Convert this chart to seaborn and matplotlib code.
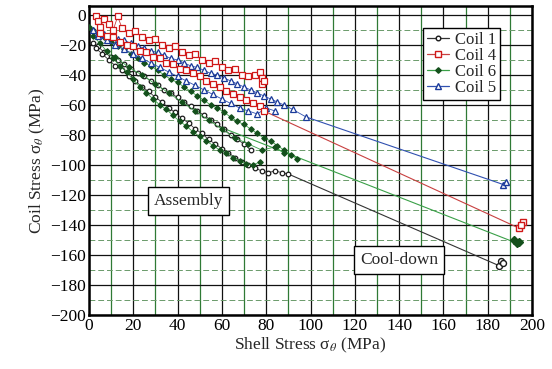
import numpy as np
import pandas as pd
import matplotlib
matplotlib.use("Agg")
import matplotlib.pyplot as plt
from matplotlib.lines import Line2D
import seaborn as sns

# ---------------- data ----------------
coil_names = ["Coil 1", "Coil 4", "Coil 6", "Coil 5"]

# Coil 1 (black open circles)
c1_a_x = [2, 4, 7, 10, 13, 16, 19, 22, 25, 28, 31, 34, 37, 40, 43, 46, 49, 52, 55, 58, 61, 64, 67, 70, 73]
c1_a_y = [-19, -21, -25, -28, -30, -33, -36, -39, -41, -44, -47, -50, -52, -55, -58, -61, -64, -67, -70, -73, -76, -80, -83, -86, -90]
c1_b_x = [3, 6, 9, 12, 15, 18, 21, 24, 27, 30, 33, 36, 39, 42, 45, 48, 51, 54, 57, 60, 63, 66, 69, 72, 75, 78, 81, 84, 87, 90]
c1_b_y = [-22, -26, -30, -34, -37, -41, -44, -48, -51, -55, -58, -62, -65, -69, -72, -76, -79, -83, -86, -89, -92, -95, -98, -100, -102, -104, -105, -104, -105, -106]
c1_cd_x = [90, 185, 186, 187]
c1_cd_y = [-106, -167, -164, -165]

# Coil 4 (red open squares)
c4_a_x = [3, 4, 5, 7, 9, 11, 13, 15, 18, 21, 24, 27, 30, 33, 36, 39, 42, 45, 48, 51, 54, 57, 60, 63, 66, 69, 72, 75, 77, 78, 78, 79]
c4_a_y = [-1, -4, -8, -3, -6, -10, -1, -9, -12, -11, -15, -17, -16, -20, -22, -21, -25, -27, -26, -30, -32, -31, -35, -37, -36, -40, -41, -40, -38, -42, -46, -44]
c4_b_x = [5, 8, 11, 14, 17, 20, 23, 26, 29, 32, 35, 38, 41, 44, 47, 50, 53, 56, 59, 62, 65, 68, 71, 74, 77, 79]
c4_b_y = [-12, -14, -15, -18, -20, -21, -24, -25, -28, -29, -32, -33, -36, -37, -39, -41, -44, -46, -48, -51, -53, -55, -57, -59, -61, -64]
c4_cd_x = [79, 194, 196, 195]
c4_cd_y = [-64, -142, -138, -140]

# Coil 6 (green filled diamonds)
c6_a_x = [0, 2, 4, 7, 10, 13, 16, 19, 22, 25, 28, 31, 34, 37, 40, 43, 46, 49, 52, 55, 58, 61, 64, 67, 70, 73, 76, 79, 82, 85, 88, 91, 94]
c6_a_y = [-8, -10, -12, -15, -18, -21, -23, -26, -29, -32, -34, -37, -40, -43, -45, -48, -51, -54, -57, -60, -62, -65, -68, -71, -73, -76, -79, -82, -84, -87, -90, -93, -96]
c6_b_x = [2, 5, 8, 11, 14, 17, 20, 23, 26, 29, 32, 35, 38, 41, 44, 47, 50, 53, 56, 59, 62, 65, 68, 71, 74, 77]
c6_b_y = [-14, -19, -24, -29, -34, -38, -43, -48, -52, -56, -60, -63, -67, -71, -74, -78, -81, -84, -87, -90, -92, -95, -97, -99, -100, -98]
c6_c_x = [12, 18, 24, 30, 36, 42, 48, 54, 60, 66, 72, 78, 84, 88]
c6_c_y = [-28, -35, -40, -46, -52, -58, -64, -70, -76, -82, -86, -90, -88, -92]
c6_cd_x = [58, 193, 192, 194]
c6_cd_y = [-74, -152, -150, -151]

# Coil 5 (blue open triangles)
c5_a_x = [2, 4, 7, 10, 13, 16, 19, 22, 25, 28, 31, 34, 37, 40, 43, 46, 49, 52, 55, 58, 61, 64, 67, 70, 73, 76, 79, 82, 85, 88, 92, 98]
c5_a_y = [-10, -12, -13, -14, -16, -17, -19, -21, -22, -24, -25, -27, -29, -30, -32, -34, -35, -37, -39, -40, -42, -44, -46, -48, -50, -52, -54, -56, -58, -60, -63, -68]
c5_b_x = [4, 8, 12, 16, 20, 24, 28, 32, 36, 40, 44, 48, 52, 56, 60, 64, 68, 72, 76, 80, 84]
c5_b_y = [-14, -17, -20, -23, -26, -29, -32, -35, -38, -41, -44, -47, -50, -53, -56, -59, -62, -64, -66, -62, -64]
c5_cd_x = [98, 187, 188]
c5_cd_y = [-68, -113, -111]

x_ticks = list(range(0, 201, 20))
y_ticks = list(range(-200, 1, 20))

# ---------------- build tidy frame ----------------
def strands(coil, parts):
    rows = []
    for k, (xs, ys, kind) in enumerate(parts):
        for xv, yv in zip(xs, ys):
            rows.append(dict(coil=coil, strand=f"{coil}-{k}", kind=kind, x=xv, y=yv))
    return rows

rows = []
rows += strands("Coil 1", [(c1_a_x, c1_a_y, "asm"), (c1_b_x, c1_b_y, "asm"), (c1_cd_x, c1_cd_y, "cd")])
rows += strands("Coil 6", [(c6_a_x, c6_a_y, "asm"), (c6_b_x, c6_b_y, "asm"), (c6_c_x, c6_c_y, "asm"), (c6_cd_x, c6_cd_y, "cd")])
rows += strands("Coil 5", [(c5_a_x, c5_a_y, "asm"), (c5_b_x, c5_b_y, "asm"), (c5_cd_x, c5_cd_y, "cd")])
rows += strands("Coil 4", [(c4_a_x, c4_a_y, "asm"), (c4_b_x, c4_b_y, "asm"), (c4_cd_x, c4_cd_y, "cd")])
df = pd.DataFrame(rows)

style = {
    "Coil 1": dict(line="#333333", mec="#1a1a1a", mfc="white", marker="o", ms=3.3),
    "Coil 4": dict(line="#c84040", mec="#d01818", mfc="white", marker="s", ms=3.9),
    "Coil 6": dict(line="#3aa048", mec="#14501c", mfc="#14501c", marker="D", ms=2.8),
    "Coil 5": dict(line="#3050b0", mec="#1a3a9a", mfc="white", marker="^", ms=3.9),
}

# ---------------- figure ----------------
sns.set_style("white")
plt.rcParams["font.family"] = ["Liberation Serif", "DejaVu Serif"]
plt.rcParams["mathtext.fontset"] = "stix"

fig = plt.figure(figsize=(5.52, 3.69), dpi=100)
ax = fig.add_axes([0.161, 0.146, 0.803, 0.838])

for coil in ["Coil 1", "Coil 6", "Coil 5", "Coil 4"]:
    st = style[coil]
    sub = df[df.coil == coil]
    for strand, g in sub.groupby("strand", sort=False):
        if g.kind.iloc[0] == "cd":
            sns.lineplot(data=g, x="x", y="y", sort=False, estimator=None, ax=ax,
                         color=st["line"], lw=0.8, legend=False, zorder=3)
            gg = g.iloc[1:]
            sns.lineplot(data=gg, x="x", y="y", sort=False, estimator=None, ax=ax,
                         color=st["line"], lw=0, marker=st["marker"], markersize=st["ms"] + 1,
                         markeredgecolor=st["mec"], markerfacecolor=st["mfc"], markeredgewidth=1.0,
                         legend=False, zorder=4)
        else:
            sns.lineplot(data=g, x="x", y="y", sort=False, estimator=None, ax=ax,
                         color=st["line"], lw=0.6, marker=st["marker"], markersize=st["ms"],
                         markeredgecolor=st["mec"], markerfacecolor=st["mfc"], markeredgewidth=0.9,
                         legend=False, zorder=4)

ax.set_xlim(0, 200)
ax.set_ylim(-200, 6)
ax.set_xticks(x_ticks)
ax.set_yticks(y_ticks)
ax.set_xticks(list(range(10, 200, 20)), minor=True)
ax.set_yticks(list(range(-190, 0, 20)), minor=True)
ax.grid(which="major", color="#111111", lw=0.9, zorder=1)
ax.xaxis.grid(which="minor", color="#2f7a35", lw=0.9, zorder=1)
ax.yaxis.grid(which="minor", color="#6a9a6a", lw=0.7, ls=(0, (6, 3)), zorder=1)
ax.set_axisbelow(True)
ax.tick_params(which="both", length=0, labelsize=12.5, pad=2, colors="black")
for sp in ax.spines.values():
    sp.set_color("black")
    sp.set_linewidth(1.8)

ax.set_xlabel("Shell Stress σ$_{\\theta}$ (MPa)", fontsize=12.5, labelpad=1)
ax.set_ylabel("Coil Stress σ$_{\\theta}$ (MPa)", fontsize=12.5, labelpad=2)

bbox = dict(boxstyle="square,pad=0.35", facecolor="white", edgecolor="black", linewidth=1.0)
ax.text(45, -124, "Assembly", fontsize=12.5, ha="center", va="center", bbox=bbox, zorder=6)
ax.text(140, -163, "Cool-down", fontsize=12.5, ha="center", va="center", bbox=bbox, zorder=6)

handles = []
for coil in coil_names:
    st = style[coil]
    handles.append(Line2D([0], [0], color=st["line"], lw=0.9, marker=st["marker"],
                          markersize=st["ms"], markeredgecolor=st["mec"],
                          markerfacecolor=st["mfc"], markevery=[0, 1]))
leg = ax.legend(handles, coil_names, loc="upper right", bbox_to_anchor=(0.928, 0.93),
                fontsize=12, frameon=True, fancybox=False, framealpha=1, edgecolor="black",
                borderpad=0.25, labelspacing=0.0, handlelength=1.3, handletextpad=0.35,
                borderaxespad=0)
leg.get_frame().set_linewidth(1.0)
leg.set_zorder(7)

fig.savefig("out.png", dpi=100)
